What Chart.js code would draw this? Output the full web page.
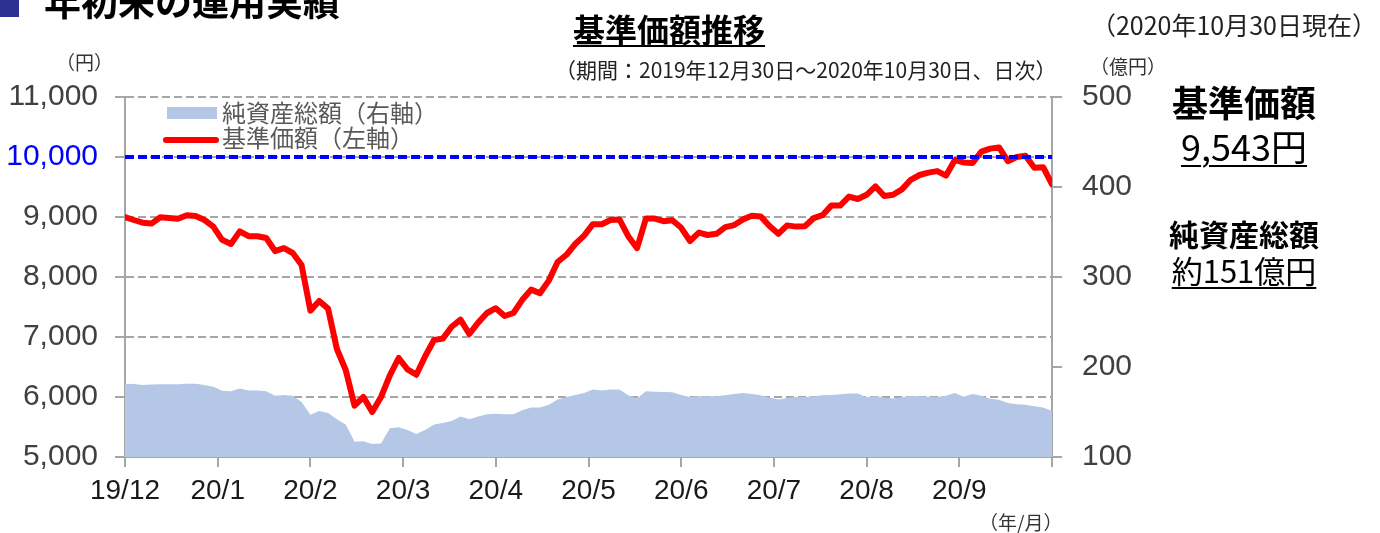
<!DOCTYPE html>
<html lang="ja">
<head>
<meta charset="utf-8">
<script src="https://cdn.jsdelivr.net/npm/chart.js@4.4.1/dist/chart.umd.min.js"></script>
<style>
  body { margin: 0; background: #fff; }
  #wrap { position: relative; width: 1380px; height: 533px; overflow: hidden;
          font-family: "Noto Sans CJK JP", sans-serif; color: #000; }
  #wrap canvas { position: absolute; left: 0; top: 0; }
  .t { position: absolute; white-space: nowrap; line-height: 1; }
  .u { text-decoration: underline; text-decoration-thickness: 2px; text-underline-offset: 4px; }
  .c { text-align: center; width: 220px; }
</style>
</head>
<body>
<div id="wrap">
  <canvas id="navChart" width="1380" height="533"></canvas>

  <!-- page heading (cut off at the top edge) -->
  <div style="position:absolute;left:0;top:0;width:19px;height:17px;background:#2e3192"></div>
  <div class="t" style="left:44px;top:-18px;font-size:37px;font-weight:bold">年初来の運用実績</div>

  <div class="t u" style="left:573px;top:12px;font-size:32px;font-weight:bold;text-underline-offset:3px">基準価額推移</div>
  <div class="t" style="left:555px;top:59px;font-size:21px;color:#222">（期間：2019年12月30日～2020年10月30日、日次）</div>
  <div class="t" style="right:3px;top:12px;font-size:25px;color:#222">（2020年10月30日現在）</div>

  <div class="t" style="left:56px;top:52px;font-size:19px;color:#333">（円）</div>
  <div class="t" style="left:1090px;top:56px;font-size:19px;color:#333">（億円）</div>
  <div class="t" style="left:979px;top:512px;font-size:19px;color:#333">（年/月）</div>

  <!-- legend -->
  <div style="position:absolute;left:167px;top:107px;width:50px;height:12px;background:#b4c7e7"></div>
  <div class="t" style="left:222px;top:100px;font-size:24px;color:#595959">純資産総額（右軸）</div>
  <div style="position:absolute;left:163px;top:137px;width:56px;height:6px;border-radius:3px;background:#ff0000"></div>
  <div class="t" style="left:222px;top:125px;font-size:24px;color:#595959">基準価額（左軸）</div>

  <!-- right panel -->
  <div class="t c" style="left:1134px;top:83px;font-size:36px;font-weight:bold">基準価額</div>
  <div class="t c" style="left:1134px;top:127px;font-size:36px"><span class="u">9,543円</span></div>
  <div class="t c" style="left:1134px;top:218px;font-size:30px;font-weight:bold">純資産総額</div>
  <div class="t c" style="left:1134px;top:254px;font-size:31px"><span class="u">約151億円</span></div>
</div>

<script>
// =============== D A T A ==========================================
const tickLabels = ['19/12', '20/1', '20/2', '20/3', '20/4', '20/5', '20/6', '20/7', '20/8', '20/9', ''];

// 基準価額 (円), read every 2 business days
const navValues = [
  9000, 8950, 8905, 8890, 8995, 8985, 8972, 9030, 9015, 8950,
  8840, 8620, 8550, 8760, 8680, 8680, 8650, 8430, 8480, 8400,
  8200, 7440, 7600, 7473, 6800, 6450, 5855, 6000, 5750, 6000,
  6360, 6650, 6460, 6370, 6680, 6950, 6973, 7170, 7290, 7050,
  7240, 7400, 7480, 7350, 7400, 7620, 7790, 7730, 7940, 8250,
  8370, 8550, 8690, 8880, 8880, 8950, 8960, 8680, 8480, 8973,
  8973, 8930, 8945, 8820, 8600, 8740, 8700, 8720, 8830, 8865,
  8960, 9020, 9010, 8850, 8720, 8860, 8840, 8845, 8980, 9030,
  9190, 9190, 9340, 9300, 9370, 9510, 9350, 9370, 9460, 9620,
  9700, 9740, 9765, 9690, 9950, 9910, 9900, 10090, 10140, 10160,
  9930, 10000, 10020, 9820, 9830, 9543
];

// 純資産総額 (億円), same dates
const assetValues = [
  181.5, 181, 180, 180.5, 180.8, 180.8, 180.8, 181.5, 181.5, 180,
  178, 173.5, 173, 176, 174, 174, 173, 168, 169, 168,
  161, 147, 151, 149, 142, 136, 117, 117.5, 114.5, 115,
  132, 133, 130, 125.5, 130, 136, 137.8, 140, 145, 142,
  145, 147.5, 148, 147.5, 147.5, 152, 155, 155, 158, 164,
  166.7, 169, 171, 175, 174, 174.9, 174.9, 168.5, 165, 173,
  172.5, 172.3, 172, 169, 166.7, 167.5, 167.5, 167.5, 168.6, 170,
  171.2, 170, 168.5, 166, 164, 165.5, 166.7, 166.7, 167.5, 168.5,
  169, 169.7, 170.5, 170.5, 166.5, 167.5, 166, 165, 166.5, 167.8,
  167.5, 167, 166.8, 168, 171, 167, 170, 168, 164.8, 163.5,
  160, 158.5, 158, 156.5, 155, 151
];

const baseLevel = 10000;   // 設定来の基準 10,000円
const dayStep = 2;
const tickStep = 21;
const lastDay = (navValues.length - 1) * dayStep;

const toPoints = arr => arr.map((v, i) => ({ x: i * dayStep, y: v }));

// =============== C H A R T ========================================
const numFont = { family: '"Liberation Sans", Arimo, sans-serif', size: 30 };
const gridGray = '#a6a6a6';

const ctx = document.getElementById('navChart');

new Chart(ctx, {
  type: 'line',
  data: {
    datasets: [
      {
        label: '10,000円',
        data: [{ x: 0, y: baseLevel }, { x: lastDay, y: baseLevel }],
        borderColor: '#0000ff',
        borderWidth: 4,
        borderDash: [9, 4],
        pointRadius: 0,
        yAxisID: 'y',
        order: 0
      },
      {
        label: '基準価額（左軸）',
        data: toPoints(navValues),
        borderColor: '#ff0000',
        borderWidth: 6,
        borderJoinStyle: 'round',
        borderCapStyle: 'round',
        pointRadius: 0,
        yAxisID: 'y',
        order: 1
      },
      {
        label: '純資産総額（右軸）',
        data: toPoints(assetValues),
        borderWidth: 0,
        backgroundColor: '#b4c7e7',
        fill: 'start',
        pointRadius: 0,
        yAxisID: 'y1',
        order: 2
      }
    ]
  },
  options: {
    responsive: false,
    animation: false,
    devicePixelRatio: 1,
    layout: { padding: { top: 97, bottom: 0, left: 0, right: 0 } },
    plugins: {
      legend: { display: false },
      tooltip: { enabled: false }
    },
    scales: {
      x: {
        type: 'linear',
        min: 0,
        max: lastDay,
        afterFit: s => { s.height = 76; },
        border: { color: gridGray, width: 2 },
        grid: { drawOnChartArea: false, drawTicks: true, tickLength: 10, color: gridGray, lineWidth: 2 },
        ticks: {
          stepSize: tickStep,
          autoSkip: false,
          maxRotation: 0,
          padding: 7,
          color: '#1a1a1a',
          font: { ...numFont, size: 28 },
          callback: v => tickLabels[Math.round(v / tickStep)] ?? ''
        }
      },
      y: {
        position: 'left',
        min: 5000,
        max: 11000,
        afterFit: s => { s.width = 125; },
        border: { color: gridGray, width: 2, dash: [8, 4] },
        grid: { color: gridGray, lineWidth: 2, tickLength: 10 },
        ticks: {
          stepSize: 1000,
          padding: 17,
          font: numFont,
          color: c => c.tick && c.tick.value === baseLevel ? '#0000ff' : '#404040',
          callback: v => v.toLocaleString('en-US')
        }
      },
      y1: {
        position: 'right',
        min: 100,
        max: 500,
        afterFit: s => { s.width = 328; },
        border: { color: gridGray, width: 2 },
        grid: { drawOnChartArea: false, color: gridGray, lineWidth: 2, tickLength: 10 },
        ticks: {
          stepSize: 100,
          padding: 20,
          font: numFont,
          color: '#404040'
        }
      }
    }
  }
});
</script>
</body>
</html>
